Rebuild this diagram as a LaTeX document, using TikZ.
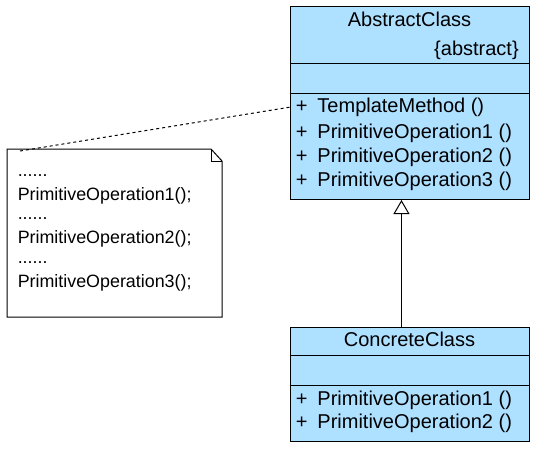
\documentclass[tikz,border=0pt]{standalone}
\usepackage{fontspec}
\setmainfont{Liberation Sans}
\usetikzlibrary{arrows.meta}

\definecolor{classblue}{RGB}{174,224,255}

\tikzset{
  classbox/.style={draw, fill=classblue, line width=0.75pt, inner sep=0pt, anchor=north west},
  classtext/.style={inner sep=0pt, font=\fontsize{15pt}{18pt}\selectfont},
  notetext/.style={inner sep=0pt, anchor=base west, font=\fontsize{13.4pt}{16pt}\selectfont},
  inherit/.style={line width=0.75pt, -{Triangle[open, length=10.5pt, width=12pt]}},
  notelink/.style={line width=0.75pt, dash pattern=on 2.25pt off 2.25pt}
}

\begin{document}
\begin{tikzpicture}[x=0.75pt,y=0.75pt,yscale=-1,xscale=1]
\useasboundingbox (0,0) rectangle (542,454);
\fill[white] (0,0) rectangle (542,454);

%Shape: Class [id:abstract] 
\node (abs) [classbox, minimum width=179.25pt, minimum height=144.75pt] at (290,6) {};
%Straight Lines 
\draw [line width=0.75pt]  (290,63) -- (529,63) ;
%Straight Lines 
\draw [line width=0.75pt]  (290,93) -- (529,93) ;

%Shape: Class [id:concrete] 
\node (con) [classbox, minimum width=179.25pt, minimum height=85.5pt] at (290,326.7) {};
%Straight Lines 
\draw [line width=0.75pt]  (290,355.7) -- (529,355.7) ;
%Straight Lines 
\draw [line width=0.75pt]  (290,385) -- (529,385) ;

%Shape: Note 
\draw [line width=0.75pt, fill=white]  (7,149) -- (211,149) -- (222,161) -- (222,317) -- (7,317) -- cycle ;
\draw [line width=0.75pt]  (211,149) -- (211,161) -- (222,161) ;
\coordinate (noteend) at (20,151);

% Text Node
\node (absname) [classtext, anchor=base] at (409.5,26.7) {AbstractClass};
% Text Node
\node (abstag) [classtext, anchor=base east] at (519,55) {\{abstract\}};
% Text Node
\node (tm) [classtext, anchor=base west] at (295.5,112.3) {+\hspace{7.5pt}TemplateMethod ()};
% Text Node
\node (aop1) [classtext, anchor=base west] at (295.5,138) {+\hspace{7.5pt}PrimitiveOperation1 ()};
% Text Node
\node (aop2) [classtext, anchor=base west] at (295.5,162.3) {+\hspace{7.5pt}PrimitiveOperation2 ()};
% Text Node
\node (aop3) [classtext, anchor=base west] at (295.5,186.7) {+\hspace{7.5pt}PrimitiveOperation3 ()};

% Text Node
\node (conname) [classtext, anchor=base] at (409.5,346) {ConcreteClass};
% Text Node
\node (cop1) [classtext, anchor=base west] at (295.5,405.7) {+\hspace{7.5pt}PrimitiveOperation1 ()};
% Text Node
\node (cop2) [classtext, anchor=base west] at (295.5,428.7) {+\hspace{7.5pt}PrimitiveOperation2 ()};

% Text Node
\node (dots1) [notetext] at (17.5,176) {......};
% Text Node
\node (call1) [notetext] at (17.5,200) {PrimitiveOperation1();};
% Text Node
\node (dots2) [notetext] at (17.5,219.5) {......};
% Text Node
\node (call2) [notetext] at (17.5,243.3) {PrimitiveOperation2();};
% Text Node
\node (dots3) [notetext] at (17.5,263.3) {......};
% Text Node
\node (call3) [notetext] at (17.5,287.3) {PrimitiveOperation3();};

%Straight Lines [id:generalization] 
\draw [inherit]  ([xshift=-6.4pt]con.north) -- ([xshift=-6.4pt]abs.south) ;
%Straight Lines [id:notelink] 
\draw [notelink]  (noteend) -- (abs.west |- tm) ;

\end{tikzpicture}
\end{document}
